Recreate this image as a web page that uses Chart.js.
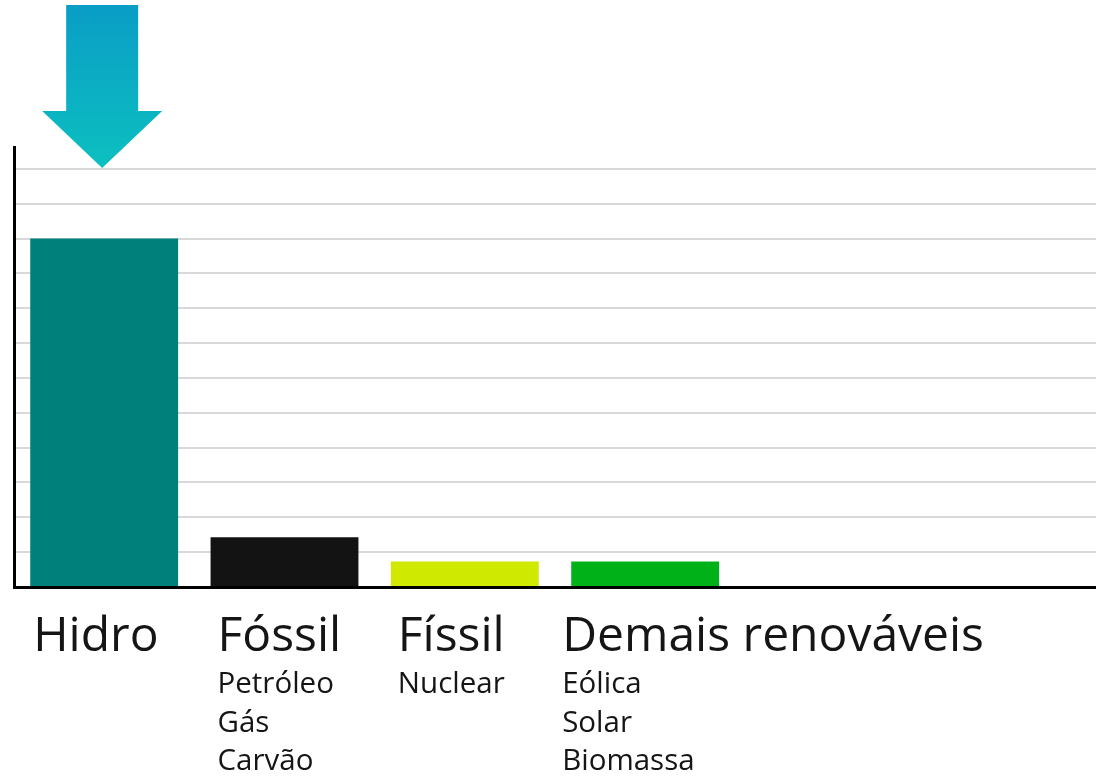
<!DOCTYPE html>
<html lang="pt">
<head>
  <meta charset="UTF-8" />
  <title>Fontes de energia</title>
  <script src="https://cdn.jsdelivr.net/npm/chart.js"></script>
  <style>
    body { margin: 0; background: #fff; }
    #wrap { width: 1096px; height: 776px; }
  </style>
</head>
<body>
  <div id="wrap"><canvas id="energyChart"></canvas></div>
  <script>
    // categories (two empty slots keep the right side of the axis free)
    const categories = ['Hidro', 'Fóssil', 'Físsil', 'Demais renováveis', '', ''];
    const subLabels = [[], ['Petróleo', 'Gás', 'Carvão'], ['Nuclear'], ['Eólica', 'Solar', 'Biomassa'], [], []];
    const values = [10, 1.43, 0.73, 0.73];
    const barColors = ['#00807b', '#131313', '#cfe900', '#00b117'];

    // label x offset from each category centre
    const labelShift = [-71, -67, -67, -83];

    const labelsPlugin = {
      id: 'groupLabels',
      afterDraw(chart) {
        const ctx = chart.ctx;
        const xs = chart.scales.x;
        ctx.save();
        ctx.fillStyle = '#151515';
        ctx.textAlign = 'left';
        ctx.textBaseline = 'alphabetic';
        categories.forEach((name, i) => {
          if (!name) return;
          const x = xs.getPixelForValue(i) + labelShift[i];
          ctx.font = '48px "Open Sans"';
          ctx.fillText(name, x, 651);
          ctx.font = '29.5px "Open Sans"';
          subLabels[i].forEach((s, j) => ctx.fillText(s, x, 693 + j * 38.5));
        });
        ctx.restore();
      }
    };

    // big down arrow above the first bar
    const arrowPlugin = {
      id: 'arrow',
      afterDraw(chart) {
        const ctx = chart.ctx;
        const cx = chart.scales.x.getPixelForValue(0) - 2;
        const top = 5, neck = 111, tip = 168;
        const grad = ctx.createLinearGradient(0, top, 0, tip);
        grad.addColorStop(0, '#0a9dc6');
        grad.addColorStop(1, '#0cc0c0');
        ctx.save();
        ctx.fillStyle = grad;
        ctx.beginPath();
        ctx.moveTo(cx - 36, top);
        ctx.lineTo(cx + 36, top);
        ctx.lineTo(cx + 36, neck);
        ctx.lineTo(cx + 60, neck);
        ctx.lineTo(cx, tip);
        ctx.lineTo(cx - 60, neck);
        ctx.lineTo(cx - 36, neck);
        ctx.closePath();
        ctx.fill();
        ctx.restore();
      }
    };

    new Chart(document.getElementById('energyChart'), {
      type: 'bar',
      data: {
        labels: categories,
        datasets: [{
          data: values,
          backgroundColor: barColors,
          borderWidth: 0,
          categoryPercentage: 1,
          barPercentage: 0.82
        }]
      },
      options: {
        responsive: true,
        maintainAspectRatio: false,
        animation: false,
        layout: { padding: { top: 147, left: 14, right: 0, bottom: 189 } },
        plugins: { legend: { display: false }, tooltip: { enabled: false } },
        scales: {
          x: {
            grid: { display: false },
            border: { color: '#000', width: 3 },
            ticks: { display: false },
            afterFit(s) { s.height = 0; }
          },
          y: {
            z: 1,
            min: 0,
            max: 12.63,
            ticks: { display: false, stepSize: 1 },
            afterBuildTicks(s) { s.ticks = s.ticks.filter(t => Number.isInteger(t.value)); },
            grid: { color: 'rgba(0,0,0,0.15)', lineWidth: 2, drawTicks: false },
            border: { color: '#000', width: 3 },
            afterFit(s) { s.width = 0; }
          }
        }
      },
      plugins: [labelsPlugin, arrowPlugin]
    });
  </script>
</body>
</html>
